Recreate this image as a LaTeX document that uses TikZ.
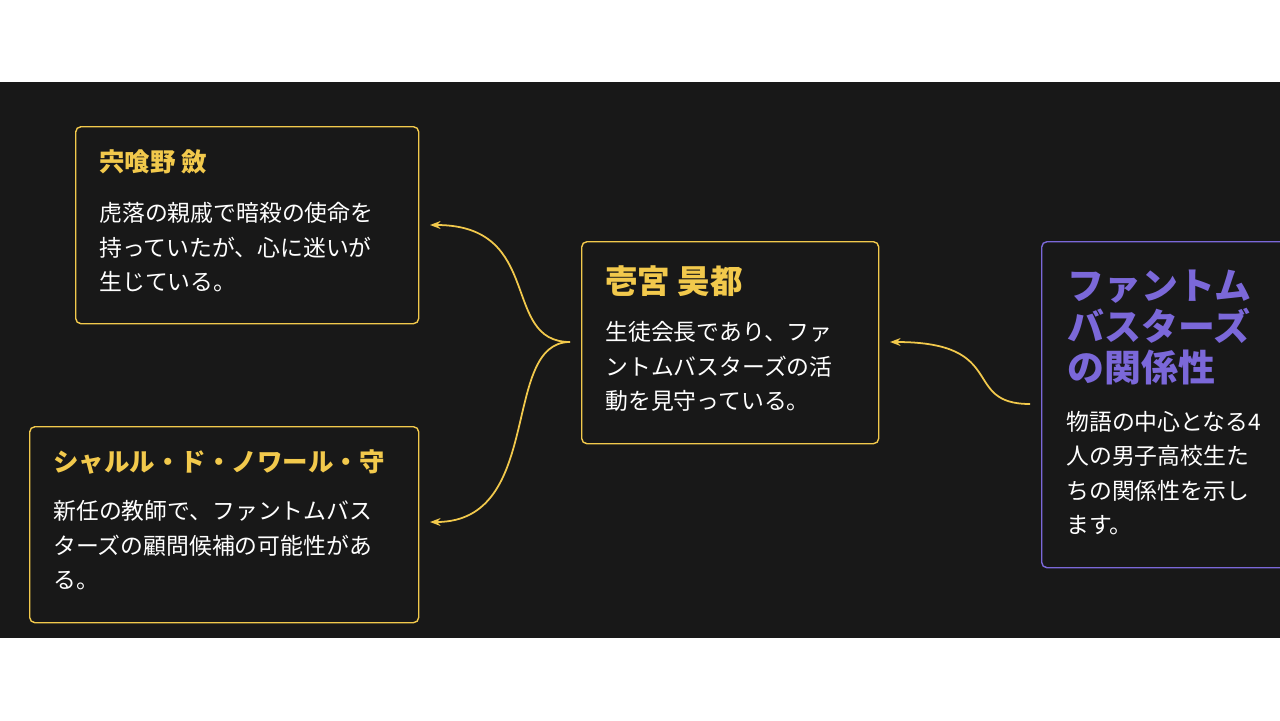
\documentclass[tikz,border=0pt]{standalone}
\usepackage{fontspec}
\setmainfont{Noto Sans CJK JP}
\usetikzlibrary{arrows.meta, positioning}
\definecolor{bandbg}{HTML}{181818}
\definecolor{gold}{HTML}{F2C94C}
\definecolor{lavender}{HTML}{7B68D9}
\begin{document}
\begin{tikzpicture}[x=0.02cm, y=-0.02cm,
    card/.style={rectangle, draw=gold, line width=0.8pt, rounded corners=3pt, fill=bandbg, anchor=north west},
    cardtitle/.style={anchor=west, inner sep=0pt, text=gold, font=\fontsize{14.5pt}{16pt}\selectfont\bfseries},
    cardtext/.style={anchor=north west, inner sep=0pt, text=white, align=left, font=\fontsize{13pt}{19.6pt}\selectfont},
    arrow/.style={draw=gold, line width=1pt, -{Stealth[length=6pt]}}
]
\useasboundingbox (0,0) rectangle (1280,720);
\fill[white] (0,0) rectangle (1280,720);
\fill[bandbg] (0,82) rectangle (1280,638);
% Cards
\node[card, minimum width=343*0.02cm, minimum height=197*0.02cm] (shishi) at (75,126) {};
\node[cardtitle] (shishit) at (99,162) {宍喰野 斂};
\node[cardtext] (shishib) at (99,202) {虎落の親戚で暗殺の使命を\\持っていたが、心に迷いが\\生じている。};
\node[card, minimum width=389*0.02cm, minimum height=196*0.02cm] (charles) at (29,426) {};
\node[cardtitle] (charlest) at (53,462) {シャルル・ド・ノワール・守};
\node[cardtext] (charlesb) at (53,500) {新任の教師で、ファントムバス\\ターズの顧問候補の可能性があ\\る。};
\node[card, minimum width=297*0.02cm, minimum height=202*0.02cm] (ichi) at (581,241) {};
\node[cardtitle, font=\fontsize{18.5pt}{20pt}\selectfont\bfseries] (ichit) at (605,281) {壱宮 昊都};
\node[cardtext] (ichib) at (605,321) {生徒会長であり、ファ\\ントムバスターズの活\\動を見守っている。};
\node[card, draw=lavender, minimum width=260*0.02cm, minimum height=326*0.02cm] (rel) at (1041,241) {};
\node[cardtext, text=lavender, font=\fontsize{21pt}{23.2pt}\selectfont\bfseries] (relt) at (1067,270) {ファントム\\バスターズ\\の関係性};
\node[cardtext] (relb) at (1066,411) {物語の中心となる4\\人の男子高校生た\\ちの関係性を示し\\ます。};
% Connectors
\coordinate (relin) at (1030,404);
\coordinate (ichiout) at (570,342);
\draw[arrow] (relin) .. controls (960,404) and (1010,342) .. (890,342);
\draw[arrow] (ichiout) .. controls (500,342) and (545,225) .. (430,225);
\draw[arrow] (ichiout) .. controls (500,342) and (545,522) .. (430,522);
\end{tikzpicture}
\end{document}
